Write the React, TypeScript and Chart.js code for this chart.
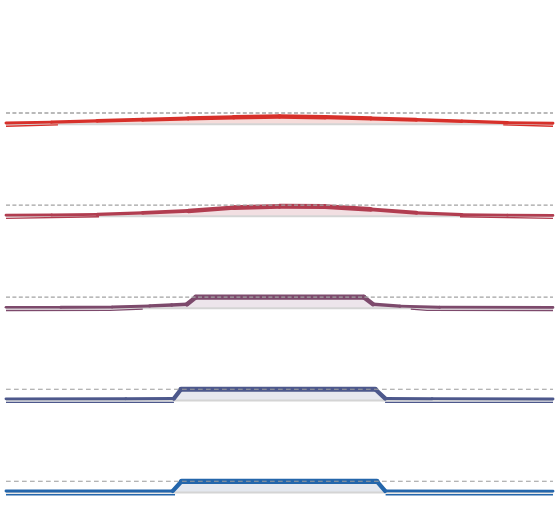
import React, { useEffect, useRef } from "react";
import { Chart, registerables } from "chart.js";

Chart.register(...registerables);

// ---- data ----
const ROW_KEYS = ["r1", "r2", "r3", "r4", "r5"];

const GRID = [0, 8.33, 16.67, 25, 33.33, 41.67, 50, 58.33, 66.67, 75, 83.33, 91.67, 100];

const row1X = GRID;
const row1Y = [0.12, 0.19, 0.3, 0.41, 0.52, 0.62, 0.7, 0.63, 0.52, 0.4, 0.27, 0.15, 0.09];

const row2X = GRID;
const row2Y = [0.1, 0.12, 0.17, 0.3, 0.48, 0.78, 0.89, 0.87, 0.62, 0.31, 0.15, 0.1, 0.08];

const row3X = [0, 10, 19.4, 26.3, 30.3, 33.1, 34.7, 65.4, 67.1, 72, 79.3, 100];
const row3Y = [0.1, 0.1, 0.12, 0.22, 0.3, 0.37, 1, 1, 0.37, 0.2, 0.11, 0.08];

const row4X = [0, 21.9, 30.7, 32, 67.5, 69.3, 77.9, 100];
const row4Y = [0.14, 0.15, 0.17, 1, 1, 0.18, 0.16, 0.13];

const row5X = [0, 30.5, 32.1, 67.8, 69.3, 100];
const row5Y = [0.13, 0.14, 1, 1, 0.14, 0.12];

const low1X = [0, 9.5, 50, 90.9, 100];
const low1Y = [-0.18, -0.05, null, -0.05, -0.18];
const low2X = [0, 17, 50, 83, 100];
const low2Y = [-0.19, -0.04, null, -0.04, -0.19];
const low3X = [0, 19, 25, 50, 74, 77, 100];
const low3Y = [-0.19, -0.18, -0.06, null, -0.06, -0.18, -0.19];
const low4X = [0, 30.7, 50, 69.3, 100];
const low4Y = [-0.18, -0.18, null, -0.18, -0.18];
const low5X = [0, 30.9, 50, 69.4, 100];
const low5Y = [-0.2, -0.2, null, -0.2, -0.2];

const REF_LEVEL = 1;
const X_EXTENT = [0, 100];

// ---- styles ----
const LINE_COLORS = ["#d7302a", "#b13d50", "#7d4a6c", "#4d588c", "#2466ab"];
const FILL_COLORS = ["#f6dcda", "#f2dfe2", "#ede5eb", "#e7e8ef", "#e4e8ef"];
const BASE_COLOR = "#d4d4d4";
const PITCH = 8.22;

const ROWS_X = [row1X, row2X, row3X, row4X, row5X];
const ROWS_Y = [row1Y, row2Y, row3Y, row4Y, row5Y];
const LOWS_X = [low1X, low2X, low3X, low4X, low5X];
const LOWS_Y = [low1Y, low2Y, low3Y, low4Y, low5Y];

export default function App() {
  const ref = useRef<HTMLCanvasElement | null>(null);

  useEffect(() => {
    document.body.style.margin = "0";
    const canvas = ref.current;
    if (!canvas) return;

    const datasets: any[] = [];
    ROW_KEYS.forEach((key, i) => {
      const offset = (ROW_KEYS.length - 1 - i) * PITCH;
      const pts = ROWS_X[i].map((x, k) => ({ x, y: ROWS_Y[i][k] + offset }));
      const color = LINE_COLORS[i];

      datasets.push({
        label: key + "-fill",
        data: pts,
        borderWidth: 0,
        borderColor: "rgba(0,0,0,0)",
        backgroundColor: FILL_COLORS[i],
        fill: { value: offset },
        pointRadius: 0,
        tension: 0,
        order: 50,
      });
      datasets.push({
        label: key + "-base",
        data: [
          { x: X_EXTENT[0], y: offset },
          { x: X_EXTENT[1], y: offset },
        ],
        borderColor: BASE_COLOR,
        borderWidth: 2,
        fill: false,
        pointRadius: 0,
        order: 40,
      });
      datasets.push({
        label: key + "-low",
        data: LOWS_X[i].map((x, k) => ({
          x,
          y: LOWS_Y[i][k] === null ? null : (LOWS_Y[i][k] as number) + offset,
        })),
        borderColor: color,
        borderWidth: 1.3,
        fill: false,
        spanGaps: false,
        pointRadius: 0,
        order: 30,
      });
      datasets.push({
        label: key,
        data: pts,
        borderColor: color,
        borderWidth: 2,
        borderCapStyle: "round",
        borderJoinStyle: "round",
        fill: false,
        pointRadius: 0,
        tension: 0,
        order: 20,
        segment: {
          borderWidth: (ctx: any) => {
            const v = (ctx.p0.parsed.y + ctx.p1.parsed.y) / 2 - offset;
            return 1.9 + 3.3 * Math.pow(Math.max(0, v), 0.6);
          },
        },
      });
      const dashed = i < 3;
      datasets.push({
        label: key + "-ref",
        data: [
          { x: X_EXTENT[0], y: REF_LEVEL + offset },
          { x: X_EXTENT[1], y: REF_LEVEL + offset },
        ],
        borderColor: dashed ? "#a2a2a2" : "#9c9c9c",
        borderWidth: dashed ? 1.4 : 1.1,
        borderDash: dashed ? [4, 2.4] : [4.7, 3.3],
        fill: false,
        pointRadius: 0,
        order: 10,
      });
    });

    const chart = new Chart(canvas, {
      type: "line",
      data: { datasets },
      options: {
        animation: false,
        responsive: false,
        events: [],
        layout: { padding: 0 },
        plugins: { legend: { display: false }, tooltip: { enabled: false } },
        scales: {
          x: { type: "linear", display: false, min: -1.097, max: 101.097 },
          y: { type: "linear", display: false, min: -1.473, max: 43.973 },
        },
      },
    });
    return () => chart.destroy();
  }, []);

  return (
    <div style={{ width: 559, height: 509, background: "#ffffff" }}>
      <canvas ref={ref} width={559} height={509} style={{ display: "block" }} />
    </div>
  );
}
